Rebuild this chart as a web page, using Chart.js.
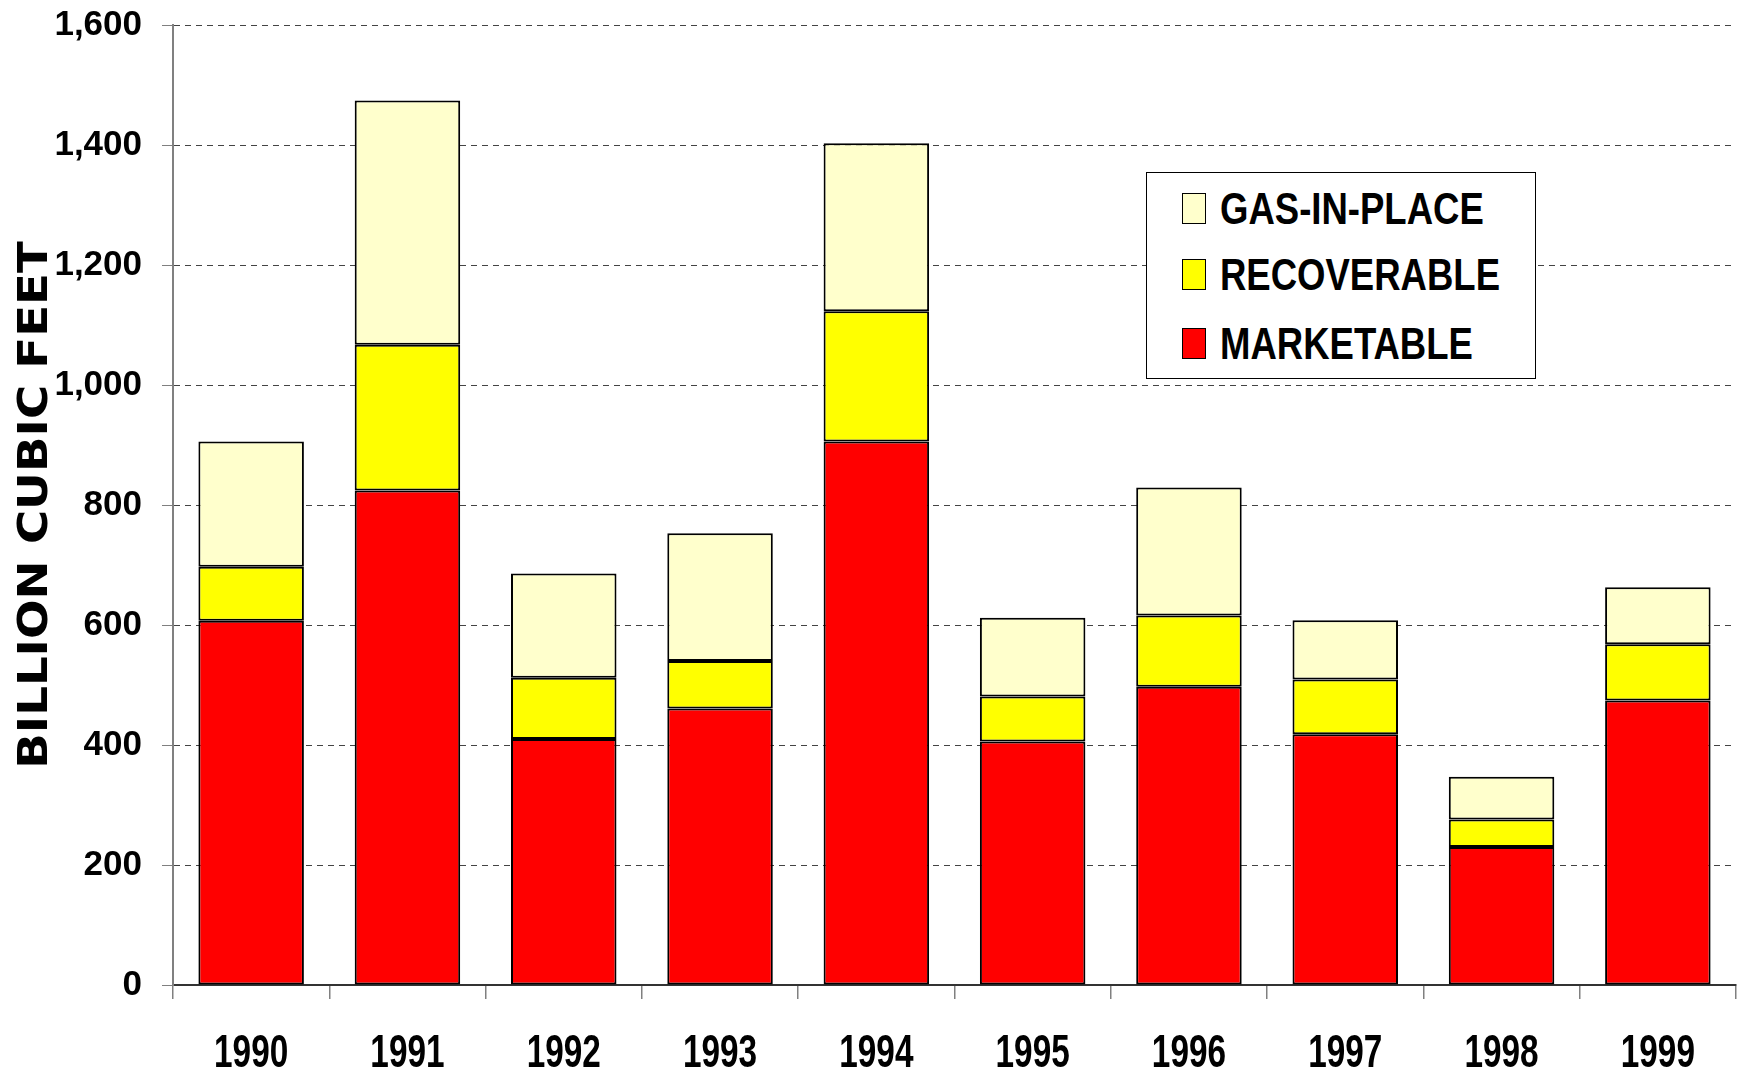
<!DOCTYPE html>
<html>
<head>
<meta charset="utf-8">
<script src="https://cdn.jsdelivr.net/npm/chart.js@4.4.0/dist/chart.umd.min.js"></script>
<style>
    body { margin: 0; background: #fff; }
    #wrap { position: relative; width: 1741px; height: 1073px; }
    #legend {
        position: absolute; left: 1146px; top: 172px; width: 390px; height: 207px;
        border: 1.5px solid #000; background: #fff; box-sizing: border-box;
    }
    .item { position: absolute; left: 0; width: 100%; height: 44px; }
    .swatch { position: absolute; left: 35px; top: 6px; width: 24px; height: 31px; border: 1.5px solid #000; box-sizing: border-box; }
    .label {
        position: absolute; left: 73px; top: 0; white-space: nowrap;
        font: bold 44px "Liberation Sans", Arial, sans-serif; line-height: 44px;
        transform: scaleX(0.83); transform-origin: left center;
    }
</style>
</head>
<body>
<div id="wrap">
    <canvas id="myChart" width="1741" height="1073"></canvas>
    <div id="legend"></div>
</div>
<script>
//----------------------------- Data -----------------------------------
const years = ['1990', '1991', '1992', '1993', '1994', '1995', '1996', '1997', '1998', '1999'];
const marketable = [607, 824, 410, 461, 906, 406, 497, 418, 230, 474];
const recoverable = [90, 243, 102, 79, 217, 75, 119, 91, 46, 94];
const gasInPlace = [209, 407, 174, 213, 280, 131, 213, 99, 71, 95];
const yTicks = [0, 200, 400, 600, 800, 1000, 1200, 1400, 1600];
const yTitle = 'BILLION CUBIC FEET';

//----------------------------- Text helpers -----------------------------------
// x labels are condensed and the y title is stretched in the original, so draw them scaled
const stretchedText = {
    id: 'stretchedText',
    afterDraw(chart) {
        const ctx = chart.ctx;
        const xScale = chart.scales.x;
        ctx.save();
        ctx.fillStyle = '#000';
        ctx.textAlign = 'center';
        ctx.textBaseline = 'alphabetic';
        ctx.font = 'bold 46px "Liberation Sans", Arial, sans-serif';
        chart.data.labels.forEach((lab, i) => {
            ctx.save();
            ctx.translate(xScale.getPixelForTick(i), 1067);
            ctx.scale(0.725, 1);
            ctx.fillText(lab, 0, 0);
            ctx.restore();
        });
        const area = chart.chartArea;
        ctx.translate(47, (area.top + area.bottom) / 2);
        ctx.rotate(-Math.PI / 2);
        ctx.scale(1.166, 1);
        ctx.font = 'bold 40px "DejaVu Sans", sans-serif';
        ctx.fillText(yTitle, 0, 0);
        ctx.restore();
    }
};

//----------------------------- Chart -----------------------------------
const ctx = document.getElementById('myChart');
const config = {
    type: 'bar',
    data: {
        labels: years,
        datasets: [
            {
                label: 'MARKETABLE',
                data: marketable,
                backgroundColor: '#FF0000',
                borderColor: '#000',
                borderWidth: 2,
                borderSkipped: false
            },
            {
                label: 'RECOVERABLE',
                data: recoverable,
                backgroundColor: '#FFFF00',
                borderColor: '#000',
                borderWidth: 2,
                borderSkipped: false
            },
            {
                label: 'GAS-IN-PLACE',
                data: gasInPlace,
                backgroundColor: '#FFFFCC',
                borderColor: '#000',
                borderWidth: 2,
                borderSkipped: false
            }
        ]
    },
    options: {
        responsive: false,
        animation: false,
        layout: { padding: { top: 25, right: 5, bottom: 0, left: 0 } },
        plugins: {
            legend: { display: false },
            tooltip: { enabled: false }
        },
        datasets: {
            bar: { barPercentage: 0.675, categoryPercentage: 1 }
        },
        scales: {
            x: {
                stacked: true,
                offset: true,
                grid: {
                    offset: true,
                    drawOnChartArea: false,
                    drawTicks: true,
                    tickLength: 14,
                    color: '#808080',
                    lineWidth: 1.5
                },
                border: { color: '#333', width: 2 },
                ticks: { display: false },
                afterFit: (axis) => { axis.height = 88; }
            },
            y: {
                stacked: true,
                min: 0,
                max: 1600,
                afterBuildTicks: (axis) => { axis.ticks = yTicks.map(v => ({ value: v })); },
                grid: {
                    color: '#444',
                    lineWidth: 1,
                    tickBorderDash: [],
                    tickColor: '#808080',
                    tickLength: 11
                },
                border: { color: '#808080', width: 2, dash: [6, 5] },
                ticks: {
                    color: '#000',
                    padding: 20,
                    font: { family: '"Liberation Sans", Arial, sans-serif', size: 35, weight: 'bold' },
                    callback: (v) => Number(v).toLocaleString('en-US')
                },
                afterFit: (axis) => {
                    axis.width = 173;
                    axis.paddingTop = 0;
                    axis.paddingBottom = 0;
                }
            }
        }
    },
    plugins: [stretchedText]
};
window.myChartInstance = new Chart(ctx, config);

//----------------------------- Legend -----------------------------------
const rowCenters = [208, 274, 343];
const legendEl = document.getElementById('legend');
config.data.datasets.slice().reverse().forEach((ds, i) => {
    const row = document.createElement('div');
    row.className = 'item';
    row.style.top = (rowCenters[i] - 172 - 22) + 'px';
    row.innerHTML = '<div class="swatch" style="background:' + ds.backgroundColor + '"></div>' +
        '<div class="label">' + ds.label + '</div>';
    legendEl.appendChild(row);
});
</script>
</body>
</html>
